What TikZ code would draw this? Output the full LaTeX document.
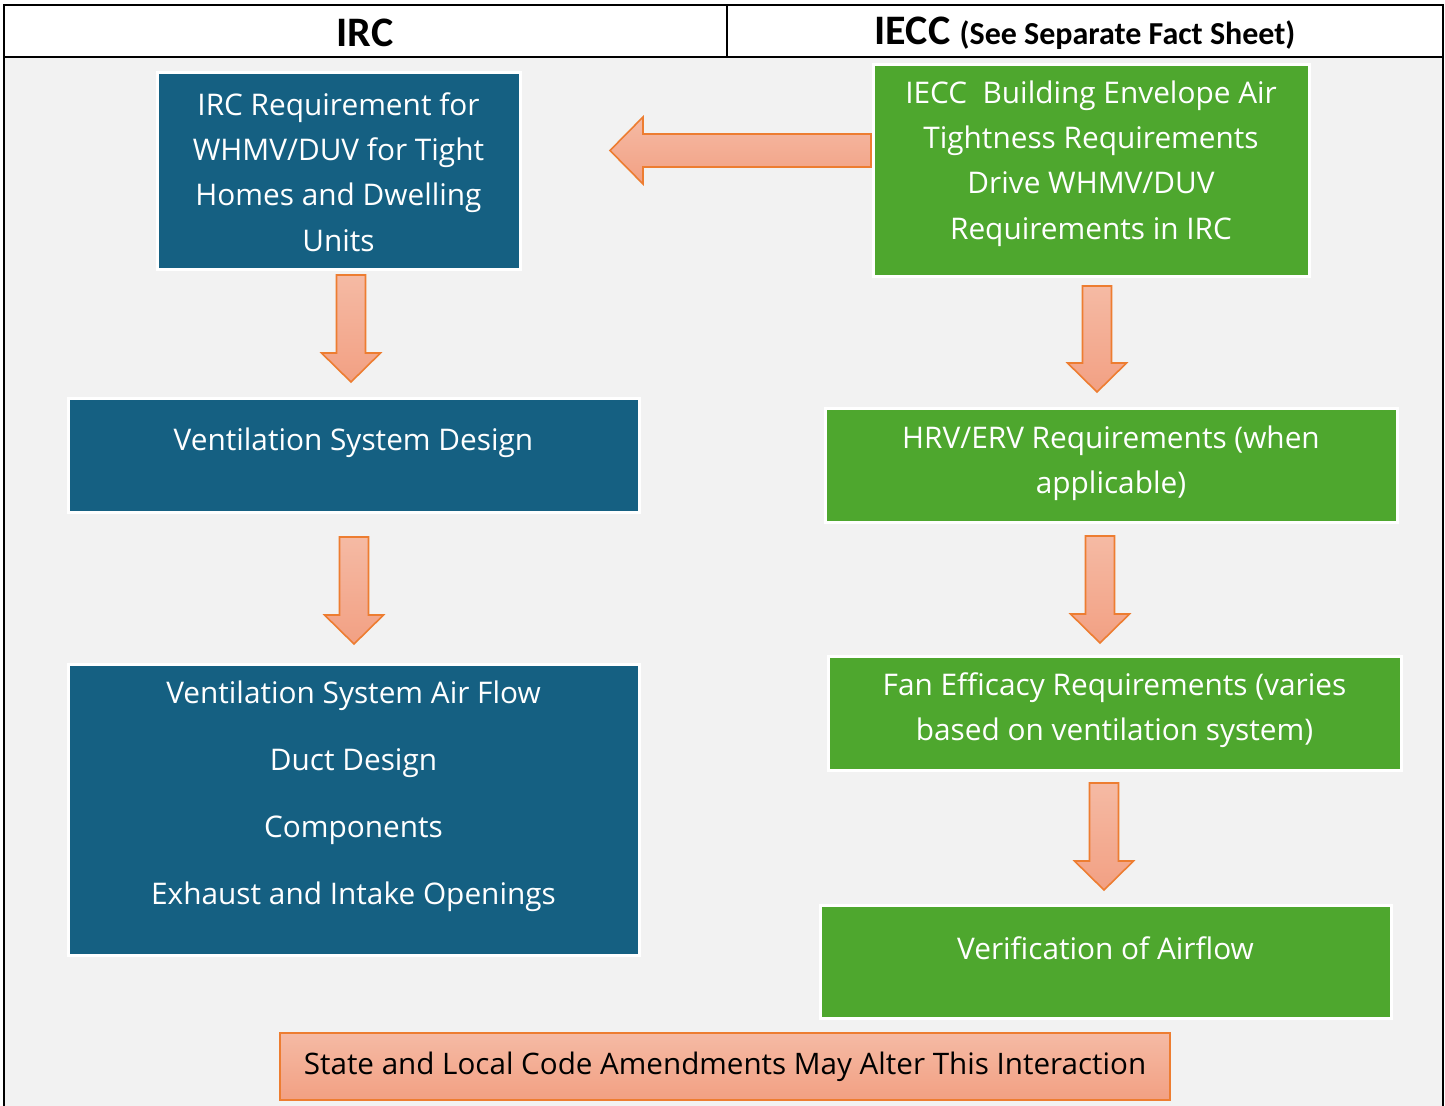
\documentclass[tikz,border=0pt]{standalone}
\usepackage{fontspec}
\setmainfont{Open Sans}
\newfontfamily\headfont{Carlito}
\usepackage{xcolor}
\usetikzlibrary{positioning}

\definecolor{ircblue}{HTML}{156082}
\definecolor{ieccgreen}{HTML}{4EA72E}
\definecolor{panelgray}{HTML}{F2F2F2}
\definecolor{salmontop}{HTML}{F5BAA4}
\definecolor{salmonbot}{HTML}{F2A083}
\definecolor{arroworange}{HTML}{ED7D31}

\tikzset{
    ircbox/.style={rectangle, fill=ircblue, draw=white, line width=1.5pt, inner sep=0pt},
    ieccbox/.style={rectangle, fill=ieccgreen, draw=white, line width=1.5pt, inner sep=0pt},
    boxtext/.style={text=white, align=center, inner sep=0pt, font=\fontsize{14.9}{22.6}\selectfont},
    blockarrow/.style={draw=arroworange, line width=0.8pt, top color=salmontop, bottom color=salmonbot},
    headtext/.style={font=\headfont\bfseries\fontsize{21}{24}\selectfont, inner sep=0pt}
}

\begin{document}
\begin{tikzpicture}[x=0.5pt, y=-0.5pt]
        \useasboundingbox (0,0) rectangle (1445,1106);
        \fill [panelgray] (4,57) rectangle (1443,1106);
        \draw [line width=1pt] (4,1106) -- (4,5) -- (1443,5) -- (1443,1106);
        \draw [line width=1pt] (4,57) -- (1443,57);
        \draw [line width=1pt] (727,5) -- (727,57);

        \node [headtext] (irchead) at (365,33) {IRC};
        \node [headtext] (iecchead) at (1085,33) {IECC {\fontsize{16}{18}\selectfont(See Separate Fact Sheet)}};

        % IRC column
        \node [ircbox, minimum width=181.5pt, minimum height=98.5pt] (irc1) at (338.5,171.5) {};
        \node [ircbox, minimum width=285.5pt, minimum height=57pt] (irc2) at (353.5,456) {};
        \node [ircbox, minimum width=285.5pt, minimum height=145.5pt] (irc3) at (353.5,809.5) {};
        \node [boxtext] (irc1t) at (338.5,172) {IRC Requirement for\\WHMV/DUV for Tight\\Homes and Dwelling\\Units};
        \node [boxtext] (irc2t) at (353.5,443) {Ventilation System Design};
        \node [boxtext] (irc3t) at (353.5,796.5) {Ventilation System Air Flow\\[10.9pt]Duct Design\\[10.9pt]Components\\[10.9pt]Exhaust and Intake Openings};

        % IECC column
        \node [ieccbox, minimum width=218pt, minimum height=106pt] (iecc1) at (1091,171) {};
        \node [ieccbox, minimum width=286pt, minimum height=57pt] (iecc2) at (1111,466) {};
        \node [ieccbox, minimum width=286.5pt, minimum height=57pt] (iecc3) at (1114.5,713) {};
        \node [ieccbox, minimum width=285.5pt, minimum height=56.5pt] (iecc4) at (1105.5,961.5) {};
        \node [boxtext] (iecc1t) at (1091,163.5) {IECC\ \ Building Envelope Air\\Tightness Requirements\\Drive WHMV/DUV\\Requirements in IRC};
        \node [boxtext] (iecc2t) at (1111,463) {HRV/ERV Requirements (when\\applicable)};
        \node [boxtext] (iecc3t) at (1114.5,710.5) {Fan Efficacy Requirements (varies\\based on ventilation system)};
        \node [boxtext] (iecc4t) at (1105.5,948) {Verification of Airflow};

        % block arrows
        \draw [blockarrow] (871,134) -- (643,134) -- (643,117) -- (610,150.5) -- (643,184) -- (643,167) -- (871,167) -- cycle;
        \foreach \cx/\yt/\yb in {351/275/382, 354/537/644, 1097/286/392, 1100/536/643, 1104/783/890}
            \draw [blockarrow] (\cx-14.5,\yt) -- (\cx+14.5,\yt) -- (\cx+14.5,\yb-29) -- (\cx+29.5,\yb-29)
                -- (\cx,\yb) -- (\cx-29.5,\yb-29) -- (\cx-14.5,\yb-29) -- cycle;

        \node [blockarrow, rectangle, minimum width=445pt, minimum height=33.5pt, inner sep=0pt,
            font=\fontsize{14.8}{16}\selectfont] (amend) at (725,1066.5) {State and Local Code Amendments May Alter This Interaction};
    \end{tikzpicture}
\end{document}
